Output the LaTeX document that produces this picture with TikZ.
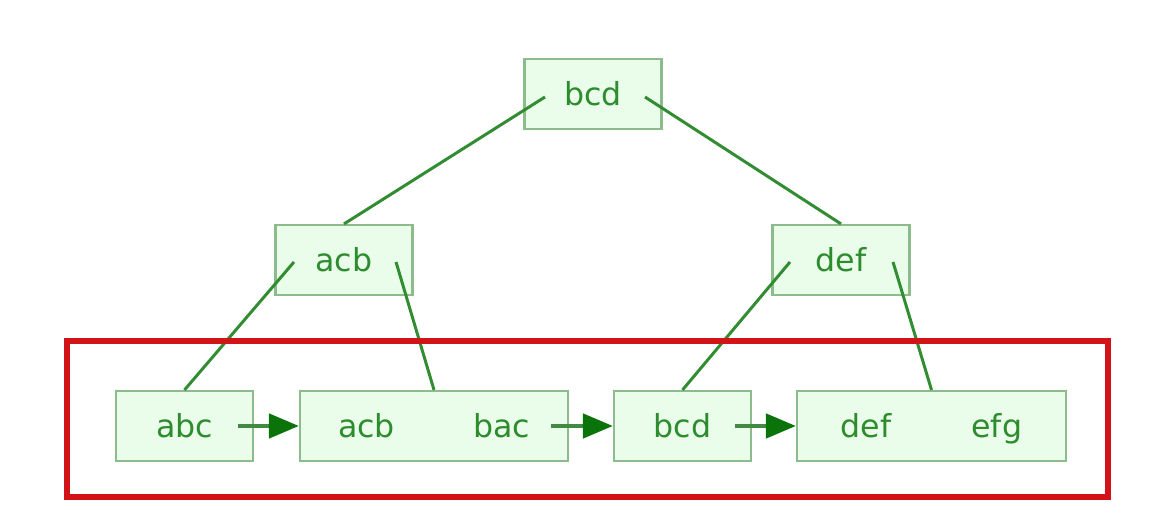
\documentclass[tikz,border=0pt]{standalone}
\usepackage{fontspec}
\setmainfont{DejaVu Sans}
\usetikzlibrary{arrows.meta}
\definecolor{keyfill}{RGB}{234,252,234}
\definecolor{keydraw}{RGB}{140,188,140}
\definecolor{keytext}{RGB}{45,140,45}
\definecolor{treeline}{RGB}{50,140,50}
\definecolor{nexthead}{RGB}{10,115,10}
\definecolor{leafframe}{RGB}{210,20,25}
\begin{document}
\begin{tikzpicture}[every node/.style={font=\fontsize{9}{11}\selectfont},
  keybox/.style={draw=keydraw,fill=keyfill,text=keytext,line width=0.6pt,inner sep=0pt,
    text height=1.5ex,text depth=0.35ex,minimum height=0.70cm,minimum width=1.37cm},
  treeedge/.style={draw=treeline,line width=0.85pt},
  nextptr/.style={draw=treeline!80!gray,line width=1.3pt,-{Triangle[length=0.30cm,width=0.24cm,color=nexthead]}}]
\useasboundingbox (0,0) rectangle (11.7,5.18);
% inner levels
\node[keybox] (root) at (5.93,4.24) {bcd};
\node[keybox] (inl) at (3.44,2.58) {acb};
\node[keybox] (inr) at (8.41,2.58) {def};
% leaf level
\node[keybox] (lf1) at (1.845,0.92) {abc};
\node[keybox,minimum width=2.68cm] (lf2) at (4.34,0.92) {acb\hspace{0.78cm}bac};
\node[keybox] (lf3) at (6.825,0.92) {bcd};
\node[keybox,minimum width=2.69cm] (lf4) at (9.315,0.92) {def\hspace{0.80cm}efg};
% child pointers
\draw[treeedge] ([xshift=-0.48cm,yshift=-0.03cm]root.center) -- (inl.north);
\draw[treeedge] ([xshift=0.52cm,yshift=-0.03cm]root.center) -- (inr.north);
\draw[treeedge] ([xshift=-0.50cm,yshift=-0.02cm]inl.center) -- (lf1.north);
\draw[treeedge] ([xshift=0.52cm,yshift=-0.02cm]inl.center) -- (lf2.north);
\draw[treeedge] ([xshift=-0.51cm,yshift=-0.02cm]inr.center) -- (lf3.north);
\draw[treeedge] ([xshift=0.52cm,yshift=-0.02cm]inr.center) -- (lf4.north);
% leaf links
\draw[nextptr] ([xshift=0.53cm]lf1.center) -- (lf2.west);
\draw[nextptr] ([xshift=1.17cm]lf2.center) -- (lf3.west);
\draw[nextptr] ([xshift=0.525cm]lf3.center) -- (lf4.west);
\draw[leafframe,line width=1.6pt] (0.67,0.21) rectangle (11.08,1.77);
\end{tikzpicture}
\end{document}
